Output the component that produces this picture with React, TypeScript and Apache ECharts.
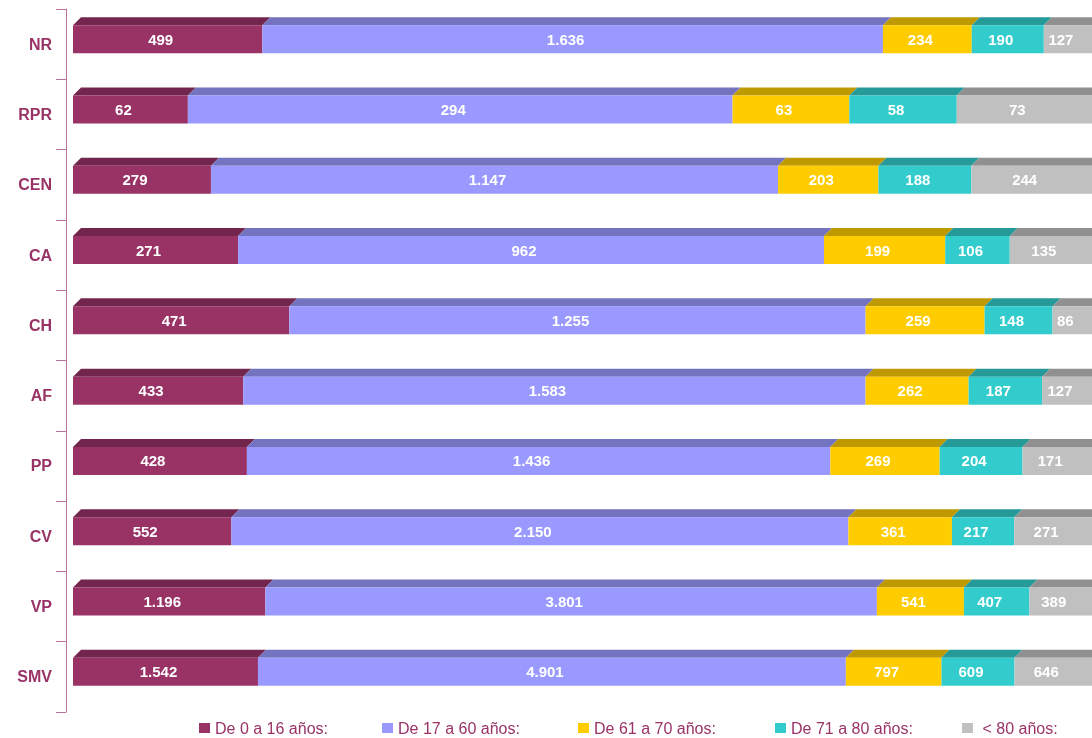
import React, { useEffect, useRef } from "react";
import * as echarts from "echarts";

const categories = ["NR", "RPR", "CEN", "CA", "CH", "AF", "PP", "CV", "VP", "SMV"];
const seriesNames = ["De 0 a 16 años:", "De 17 a 60 años:", "De 61 a 70 años:", "De 71 a 80 años:", " < 80 años:"];
const age0to16 = [499, 62, 279, 271, 471, 433, 428, 552, 1196, 1542];
const age17to60 = [1636, 294, 1147, 962, 1255, 1583, 1436, 2150, 3801, 4901];
const age61to70 = [234, 63, 203, 199, 259, 262, 269, 361, 541, 797];
const age71to80 = [190, 58, 188, 106, 148, 187, 204, 217, 407, 609];
const age80plus = [127, 73, 244, 135, 86, 127, 171, 271, 389, 646];

const frontColors = ["#993366", "#9999ff", "#ffcc00", "#33cccc", "#c0c0c0"];
const topColors = ["#73264d", "#7373bf", "#bf9900", "#269999", "#909090"];
const legendLefts = [199, 382, 578, 775, 962];

const FONT = "Liberation Sans, Arial, sans-serif";
const fmt = (v: number) => String(v).replace(/\B(?=(\d{3})+(?!\d))/g, ".");

export default function App() {
  const ref = useRef<HTMLDivElement>(null);
  useEffect(() => {
    if (!ref.current) return;
    const chart = echarts.init(ref.current, null, { renderer: "svg" });
    const groups = [age0to16, age17to60, age61to70, age71to80, age80plus];
    const totals = categories.map((_, i) => groups.reduce((a, g) => a + g[i], 0));
    const series = groups.map((g, si) => {
      const data = categories.map((_, ci) => {
        let start = 0;
        for (let k = 0; k < si; k++) start += groups[k][ci];
        return [ci, start / totals[ci], (start + g[ci]) / totals[ci], g[ci]];
      });
      return {
        type: "custom",
        name: seriesNames[si],
        xAxisIndex: 0,
        yAxisIndex: 0,
        itemStyle: { color: frontColors[si] },
        data,
        renderItem: (params: any, api: any) => {
          const cat = api.value(0);
          const s = api.value(1);
          const e = api.value(2);
          const v = api.value(3);
          const p0 = api.coord([s, cat]);
          const p1 = api.coord([e, cat]);
          const cy = p0[1];
          const x0 = p0[0];
          const x1 = p1[0];
          const fTop = cy - 19;
          const fBot = cy + 9;
          const d = 8;
          return {
            type: "group",
            children: [
              {
                type: "polygon",
                shape: { points: [[x0, fTop], [x0 + d, fTop - d], [x1 + d, fTop - d], [x1, fTop]] },
                style: { fill: topColors[si] },
              },
              {
                type: "rect",
                shape: { x: x0, y: fTop, width: x1 - x0, height: fBot - fTop },
                style: { fill: frontColors[si] },
              },
              {
                type: "text",
                x: (x0 + x1) / 2 - 7,
                y: (fTop + fBot) / 2,
                style: {
                  text: fmt(v),
                  fill: "#ffffff",
                  fontSize: 15,
                  fontWeight: "bold",
                  fontFamily: FONT,
                  align: "center",
                  verticalAlign: "middle",
                },
              },
            ],
          };
        },
      };
    });
    chart.setOption({
      animation: false,
      grid: [
        { left: 73, right: -4, top: 9, bottom: 26, containLabel: false },
        { left: 66, right: -4, top: 9, bottom: 26, containLabel: false },
      ],
      xAxis: [
        { type: "value", min: 0, max: 1, show: false, gridIndex: 0 },
        { type: "value", min: 0, max: 1, show: false, gridIndex: 1 },
      ],
      yAxis: [
        { type: "category", data: categories, inverse: true, show: false, gridIndex: 0 },
        {
          type: "category",
          data: categories,
          inverse: true,
          gridIndex: 1,
          axisLine: { show: true, lineStyle: { color: "#b8729c", width: 1 } },
          axisTick: { show: true, length: 10, lineStyle: { color: "#b8729c" } },
          axisLabel: {
            margin: 14,
            color: "#993366",
            fontSize: 16,
            fontWeight: "bold",
            fontFamily: FONT,
          },
          splitLine: { show: false },
        },
      ],
      legend: seriesNames.map((n, i) => ({
        left: legendLefts[i],
        top: 720,
        icon: "rect",
        itemWidth: 11,
        itemHeight: 10,
        itemGap: 0,
        padding: 0,
        data: [n],
        textStyle: {
          color: "#993366",
          fontSize: 16,
          lineHeight: 16,
          fontFamily: FONT,
        },
      })),
      series,
    });
    return () => chart.dispose();
  }, []);
  return (
    <div
      ref={ref}
      style={{ position: "fixed", left: 0, top: 0, width: 1092, height: 738 }}
    />
  );
}
